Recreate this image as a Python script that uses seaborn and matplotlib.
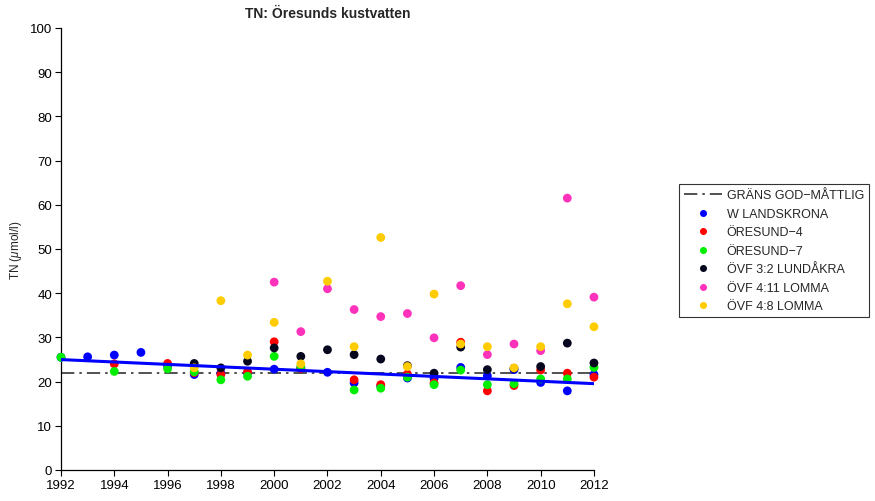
import matplotlib
matplotlib.use("Agg")
import matplotlib.pyplot as plt
import seaborn as sns
import pandas as pd
import numpy as np

years = list(range(1992, 2013))
nan = np.nan

# TN (umol/l) per station
w_landskrona = [25.5, 25.6, 26.0, 26.6, 23.5, 21.6, 21.9, 22.0, 22.8, 23.0, 22.1,
                19.7, 19.0, 20.8, 20.7, 23.2, 21.3, 22.7, 19.8, 17.9, 21.6]
oresund_4 = [nan, nan, 24.0, nan, 24.1, 22.0, 21.6, 22.2, 29.0, 23.0, nan,
             20.4, 19.3, 21.7, 19.7, 28.9, 17.9, 19.1, 22.6, 21.9, 21.0]
oresund_7 = [25.5, nan, 22.3, nan, 22.9, 22.2, 20.4, 21.2, 25.7, 23.4, nan,
             18.1, 18.5, 21.0, 19.3, 22.6, 19.3, 19.5, 20.6, 20.6, 23.2]
ovf_lundakra = [nan, nan, nan, nan, nan, 24.1, 23.1, 24.6, 27.6, 25.7, 27.2,
                26.1, 25.1, 23.6, 21.9, 27.8, 22.7, 23.0, 23.4, 28.7, 24.2]
ovf_4_11 = [nan, nan, nan, nan, nan, nan, nan, nan, 42.5, 31.3, 41.0,
            36.3, 34.7, 35.4, 29.9, 41.7, 26.1, 28.5, 27.0, 61.5, 39.1]
ovf_4_8 = [nan, nan, nan, nan, nan, 23.1, 38.3, 26.0, 33.4, 24.0, 42.7,
           27.9, 52.6, 23.4, 39.8, 28.5, 27.9, 23.1, 27.9, 37.6, 32.4]

stations = ["W LANDSKRONA", "ÖRESUND\u22124", "ÖRESUND\u22127",
            "ÖVF 3:2 LUNDÅKRA", "ÖVF 4:11 LOMMA", "ÖVF 4:8 LOMMA"]
colors = ["#0000ff", "#ff0000", "#00ee00", "#06061e", "#ff33bb", "#ffcc00"]

limit_years = [1992, 2012]
limit_values = [22, 22]
limit_label = "GRÄNS GOD\u2212MÅTTLIG"

series = [w_landskrona, oresund_4, oresund_7, ovf_lundakra, ovf_4_11, ovf_4_8]
df = pd.concat(
    [pd.DataFrame({"year": years, "TN": vals, "station": name})
     for name, vals in zip(stations, series)],
    ignore_index=True,
).dropna()

sns.set_style("ticks")
plt.rcParams["font.family"] = ["Liberation Sans", "DejaVu Sans"]
plt.rcParams["mathtext.fontset"] = "custom"
plt.rcParams["mathtext.it"] = "Liberation Sans:italic"

fig = plt.figure(figsize=(8.75, 5.02), dpi=100)
ax = fig.add_axes([0.0697, 0.0618, 0.6091, 0.8805])

sns.lineplot(x=limit_years, y=limit_values, color="#333333", lw=1.2,
             linestyle=(0, (8, 3, 1.5, 3)), label=limit_label, ax=ax, zorder=1)
sns.scatterplot(data=df, x="year", y="TN", hue="station", hue_order=stations,
                palette=colors, s=40, edgecolor="none", ax=ax, zorder=3,
                clip_on=False)
sns.regplot(x=years, y=w_landskrona, scatter=False, ci=None, ax=ax,
            line_kws={"color": "#0000ff", "lw": 2.2, "zorder": 4})

ax.set_xlim(1992, 2012)
ax.set_ylim(0, 100)
ax.set_xticks(range(1992, 2013, 2))
ax.set_yticks(range(0, 101, 10))
ax.tick_params(labelsize=9.5, length=4, width=0.8, colors="black", pad=2.5)
ax.set_xlabel("")
ax.set_ylabel(r"TN ($\mu$mol/l)", fontsize=8.5)
ax.set_title("TN: Öresunds kustvatten", fontsize=10, fontweight="bold", pad=8)
sns.despine(ax=ax)
for sp in ["left", "bottom"]:
    ax.spines[sp].set_linewidth(0.9)
    ax.spines[sp].set_color("black")

handles, labels = ax.get_legend_handles_labels()
ax.get_legend().remove()
order = [labels.index(limit_label)] + [labels.index(s) for s in stations]
leg = fig.legend([handles[i] for i in order], [labels[i] for i in order],
                 loc="upper left", bbox_to_anchor=(0.769, 0.643),
                 fontsize=9.0, frameon=True, fancybox=False, edgecolor="black",
                 labelspacing=0.52, handlelength=3.0, handletextpad=0.4,
                 borderpad=0.4, markerscale=0.8)
leg.get_frame().set_linewidth(0.8)

fig.savefig("out.png", dpi=100)
